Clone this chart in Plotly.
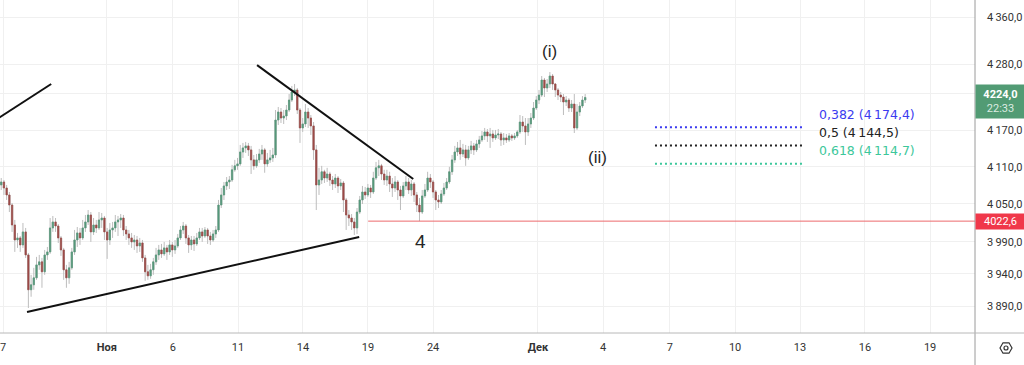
import math
import plotly.graph_objects as go

# ---------------- data (hourly candles) ----------------
opens = [4088.5, 4080.5, 4085.3, 4075.6, 4064.4, 4048.3, 4016.5, 3992.8, 3996, 3985,
 4005.5, 3969.3, 3915, 3922.7, 3933.5, 3953.7, 3958.4, 3942.9, 3969.3, 3974,
 4011.8, 4021.3, 4014.9, 3996, 3977.1, 3946, 3933.5, 3949.1, 3974, 3992.8,
 4003.9, 3996, 4011.8, 4021.3, 4032.4, 4005.5, 4016.5, 4011.8, 4024.5, 4027.6,
 4005.5, 3992.8, 4008.6, 4011.8, 4021.3, 4024.5, 4027.6, 4008.6, 4002.3, 3996,
 3989.7, 3992.8, 3983.4, 3988.1, 3964.6, 3942.9, 3936.6, 3946, 3958.4, 3969.3,
 3977.1, 3970.9, 3980.3, 3974, 3985, 3977.1, 3983.4, 3996, 4008.6, 4014.9,
 3996, 3985, 3992.8, 3986.6, 3996, 4005.5, 3999.1, 4008.6, 3999.1, 3992.8,
 4002.3, 4008.6, 4048.3, 4064.4, 4078.9, 4085.3, 4088.5, 4105, 4111.4, 4114.6,
 4134, 4140.6, 4143.9, 4137.4, 4121.1, 4111.4, 4121.1, 4130.7, 4137.4, 4114.6,
 4121.1, 4124.3, 4129.1, 4186.5, 4199.8, 4189.8, 4193.1, 4203.1, 4219.7, 4233.1,
 4236.5, 4203.1, 4173.4, 4180, 4199.8, 4189.8, 4176.7, 4137.4, 4080.5, 4088.5,
 4101.8, 4091.7, 4098.2, 4088.5, 4082.1, 4091.7, 4078.9, 4083.7, 4056.4, 4032.4,
 4027.6, 4021.3, 4011.8, 4037.1, 4056.4, 4069.2, 4064.4, 4075.6, 4069.2, 4091.7,
 4108.2, 4111.4, 4098.2, 4088.5, 4094.9, 4082.1, 4075.6, 4085.3, 4072.4, 4062.8,
 4078.9, 4085.3, 4072.4, 4082.1, 4064.4, 4048.3, 4037.1, 4062.8, 4072.4, 4091.7,
 4085.3, 4069.2, 4056.4, 4053.2, 4066, 4075.6, 4085.3, 4101.8, 4121.1, 4134,
 4140.6, 4130.7, 4137.4, 4124.3, 4137.4, 4143.9, 4137.4, 4147.2, 4153.7, 4160.3,
 4166.8, 4160.3, 4163.5, 4157, 4161.9, 4163.5, 4153.7, 4157, 4153.7, 4160.3,
 4157, 4160.3, 4166.8, 4183.2, 4176.7, 4166.8, 4180, 4189.8, 4206.4, 4219.7,
 4228, 4253.2, 4239.8, 4246.5, 4259.9, 4246.5, 4236.5, 4228, 4224.7, 4216.4,
 4219.7, 4206.4, 4213, 4173.4, 4199.8, 4209.7, 4219.7]

highs = [4096.6, 4091.7, 4088.5, 4080.5, 4069.2, 4051.5, 4024.5, 4003.9, 3999.1, 4019.7,
 4011.8, 3972.4, 3938.2, 3949.1, 3966.2, 3969.3, 3964.6, 3977.1, 3981.8, 4027.6,
 4030.8, 4027.6, 4018.1, 3999.1, 3980.3, 3953.7, 3958.4, 3980.3, 4008.6, 4013.3,
 4011.8, 4024.5, 4032.4, 4040.3, 4037.1, 4027.6, 4024.5, 4037.1, 4035.6, 4030.8,
 4011.8, 4019.7, 4021.3, 4032.4, 4030.8, 4033.9, 4032.4, 4014.9, 4008.6, 4003.9,
 4000.7, 3999.1, 3996, 3992.8, 3969.3, 3953.7, 3955.3, 3964.6, 3980.3, 3985,
 3986.6, 3989.7, 3985, 3992.8, 3989.7, 3992.8, 4002.3, 4014.9, 4021.3, 4018.1,
 4000.7, 3999.1, 3999.1, 4003.9, 4011.8, 4011.8, 4013.3, 4011.8, 4005.5, 4008.6,
 4014.9, 4056.4, 4075.6, 4085.3, 4093.3, 4094.9, 4113, 4121.1, 4124.3, 4145.5,
 4148.8, 4150.4, 4148.8, 4143.9, 4129.1, 4130.7, 4139, 4145.5, 4140.6, 4132.4,
 4137.4, 4140.6, 4203.1, 4208.1, 4206.4, 4203.1, 4211.4, 4229.7, 4243.2, 4246.5,
 4239.8, 4206.4, 4189.8, 4213, 4206.4, 4194.8, 4183.2, 4145.5, 4108.2, 4111.4,
 4105, 4108.2, 4101.8, 4094.9, 4098.2, 4094.9, 4090.1, 4086.9, 4059.6, 4040.3,
 4033.9, 4027.6, 4043.5, 4062.8, 4078.9, 4077.3, 4082.1, 4080.5, 4101.8, 4117.8,
 4121.1, 4114.6, 4105, 4105, 4101.8, 4091.7, 4094.9, 4088.5, 4078.9, 4085.3,
 4094.9, 4091.7, 4088.5, 4085.3, 4069.2, 4059.6, 4072.4, 4082.1, 4101.8, 4098.2,
 4088.5, 4072.4, 4064.4, 4072.4, 4083.7, 4091.7, 4109.8, 4129.1, 4143.9, 4150.4,
 4153.7, 4147.2, 4145.5, 4143.9, 4152.1, 4148.8, 4153.7, 4160.3, 4168.4, 4173.4,
 4171.7, 4173.4, 4170.1, 4170.1, 4171.7, 4166.8, 4165.1, 4163.5, 4165.1, 4163.5,
 4165.1, 4170.1, 4194.8, 4193.1, 4189.8, 4189.8, 4198.1, 4216.4, 4226.3, 4236.5,
 4259.9, 4256.6, 4254.9, 4266.6, 4263.3, 4248.2, 4239.8, 4233.1, 4229.7, 4226.3,
 4223, 4219.7, 4229.7, 4213, 4216.4, 4226.3, 4229.7]

lows = [4072.4, 4072.4, 4064.4, 4056.4, 4037.1, 4005.5, 3974, 3980.3, 3974, 3980.3,
 3964.6, 3887, 3904.2, 3915, 3930.4, 3946, 3918.1, 3938.2, 3961.5, 3970.9,
 4005.5, 4005.5, 3988.1, 3967.7, 3930.4, 3918.1, 3924.2, 3946, 3969.3, 3981.8,
 3985, 3992.8, 4005.5, 4016.5, 3989.7, 4000.7, 4003.9, 4008.6, 4011.8, 3992.8,
 3963, 3985, 3996, 4005.5, 3999.1, 4011.8, 3999.1, 3992.8, 3985, 3980.3,
 3977.1, 3972.4, 3974, 3958.4, 3928.9, 3930.4, 3932, 3938.2, 3953.7, 3961.5,
 3964.6, 3967.7, 3961.5, 3969.3, 3966.2, 3970.9, 3980.3, 3992.8, 4002.3, 3986.6,
 3972.4, 3977.1, 3975.5, 3983.4, 3992.8, 3989.7, 3996, 3986.6, 3985, 3989.7,
 3996, 4005.5, 4043.5, 4056.4, 4072.4, 4074, 4085.3, 4101.8, 4105, 4111.4,
 4124.3, 4132.4, 4127.5, 4098.2, 4105, 4108.2, 4116.2, 4121.1, 4100.2, 4109.8,
 4116.2, 4117.8, 4124.3, 4178.3, 4181.6, 4179.9, 4186.5, 4199.8, 4216.4, 4226.3,
 4196.5, 4148.8, 4166.8, 4175, 4173.4, 4161.9, 4121.1, 4040.3, 4064.4, 4082.1,
 4083.7, 4085.3, 4078.9, 4072.4, 4075.6, 4067.6, 4072.4, 4037.1, 4008.6, 4014.9,
 4008.6, 4000.7, 4002.3, 4033.9, 4049.9, 4058, 4061.2, 4059.6, 4066, 4088.5,
 4094.9, 4088.5, 4080.5, 4078.9, 4069.2, 4061.2, 4069.2, 4056.4, 4040.3, 4059.6,
 4072.4, 4066, 4062.8, 4053.2, 4037.1, 4022.6, 4033.9, 4059.6, 4069.2, 4075.6,
 4059.6, 4040.3, 4043.5, 4049.9, 4062.8, 4072.4, 4082.1, 4096.6, 4116.2, 4127.5,
 4121.1, 4125.9, 4111.4, 4121.1, 4130.7, 4129.1, 4134, 4140.6, 4150.4, 4153.7,
 4150.4, 4140.6, 4150.4, 4153.7, 4155.3, 4143.9, 4145.5, 4148.8, 4150.4, 4152.1,
 4153.7, 4157, 4163.5, 4166.8, 4145.5, 4160.3, 4173.4, 4186.5, 4203.1, 4213,
 4224.7, 4224.7, 4233.1, 4239.8, 4236.5, 4224.7, 4219.7, 4216.4, 4194.8, 4209.7,
 4199.8, 4199.8, 4165.1, 4170.1, 4193.1, 4206.4, 4214.7]

closes = [4080.5, 4085.3, 4075.6, 4064.4, 4048.3, 4016.5, 3992.8, 3996, 3985, 4005.5,
 3969.3, 3915, 3922.7, 3933.5, 3953.7, 3958.4, 3942.9, 3969.3, 3974, 4011.8,
 4021.3, 4014.9, 3996, 3977.1, 3946, 3933.5, 3949.1, 3974, 3992.8, 4003.9,
 3996, 4011.8, 4021.3, 4032.4, 4005.5, 4016.5, 4011.8, 4024.5, 4027.6, 4005.5,
 3992.8, 4008.6, 4011.8, 4021.3, 4024.5, 4027.6, 4008.6, 4002.3, 3996, 3989.7,
 3992.8, 3983.4, 3988.1, 3964.6, 3942.9, 3936.6, 3946, 3958.4, 3969.3, 3977.1,
 3970.9, 3980.3, 3974, 3985, 3977.1, 3983.4, 3996, 4008.6, 4014.9, 3996,
 3985, 3992.8, 3986.6, 3996, 4005.5, 3999.1, 4008.6, 3999.1, 3992.8, 4002.3,
 4008.6, 4048.3, 4064.4, 4078.9, 4085.3, 4088.5, 4105, 4111.4, 4114.6, 4134,
 4140.6, 4143.9, 4137.4, 4121.1, 4111.4, 4121.1, 4130.7, 4137.4, 4114.6, 4121.1,
 4124.3, 4129.1, 4186.5, 4199.8, 4189.8, 4193.1, 4203.1, 4219.7, 4233.1, 4236.5,
 4203.1, 4173.4, 4180, 4199.8, 4189.8, 4176.7, 4137.4, 4080.5, 4088.5, 4101.8,
 4091.7, 4098.2, 4088.5, 4082.1, 4091.7, 4078.9, 4083.7, 4056.4, 4032.4, 4027.6,
 4021.3, 4011.8, 4037.1, 4056.4, 4069.2, 4064.4, 4075.6, 4069.2, 4091.7, 4108.2,
 4111.4, 4098.2, 4088.5, 4094.9, 4082.1, 4075.6, 4085.3, 4072.4, 4062.8, 4078.9,
 4085.3, 4072.4, 4082.1, 4064.4, 4048.3, 4037.1, 4062.8, 4072.4, 4091.7, 4085.3,
 4069.2, 4056.4, 4053.2, 4066, 4075.6, 4085.3, 4101.8, 4121.1, 4134, 4140.6,
 4130.7, 4137.4, 4124.3, 4137.4, 4143.9, 4137.4, 4147.2, 4153.7, 4160.3, 4166.8,
 4160.3, 4163.5, 4157, 4161.9, 4163.5, 4153.7, 4157, 4153.7, 4160.3, 4157,
 4160.3, 4166.8, 4183.2, 4176.7, 4166.8, 4180, 4189.8, 4206.4, 4219.7, 4228,
 4253.2, 4239.8, 4246.5, 4259.9, 4246.5, 4236.5, 4228, 4224.7, 4216.4, 4219.7,
 4206.4, 4213, 4173.4, 4199.8, 4209.7, 4219.7, 4224.0]

# time axis (bar-index positions of the date labels); first label only shows its last digit
x_tick_pos = [1.7, 39.9, 64.2, 88.2, 112.1, 136.0, 160.0, 198.6, 222.6, 247.2, 271.2, 295.1, 319.0, 343.0]
x_tick_text = ["7", "<b>Ноя</b>", "6", "11", "14", "19", "24", "<b>Дек</b>", "4", "7", "10", "13", "16", "19"]
x_range = [0.55, 359.53]

# price axis (log scale); the 4230 label is hidden behind the last-price tag in the reference
y_tick_vals = [3890, 3940, 3990, 4050, 4110, 4170, 4230, 4280, 4360]
y_tick_text = ["3\u2009890,0", "3\u2009940,0", "3\u2009990,0", "4\u2009050,0", "4\u2009110,0",
               "4\u2009170,0", "", "4\u2009280,0", "4\u2009360,0"]
y_range_log = [3.585319, 3.642438]

# drawn trend lines: (bar, price) end points
trend_x = [[-1.25, 19.4], [10.5, 132.8], [95.2, 152.7]]
trend_y = [[4186.0, 4246.5], [3880.8, 3997.5], [4278.3, 4090.1]]

# horizontal level (wave 4 low)
level_price = 4022.6
level_start = 136.1

# Fibonacci retracement levels
fib_ratio = ["0,382", "0,5", "0,618"]
fib_price = [4174.4, 4144.5, 4114.7]
fib_text_price = ["4\u2009174,4", "4\u2009144,5", "4\u2009114,7"]
fib_color = ["#3b3bf0", "#222222", "#3cc79b"]
fib_x = [241.7, 296.9]
fib_label_x = 301.4

# wave labels
wave_text = ["4", "(i)", "(ii)"]
wave_x = [155.2, 202.7, 220.4]
wave_y = [3990.0, 4302.0, 4124.3]
wave_size = [19, 17, 17]

last_price = 4224.0
last_price_text = "4224,0"
countdown = "22:33"
level_text = "4022,6"

# ---------------- styles ----------------
UP = "#55987a"
DOWN = "#9c4a47"
WICK = "#bdbdbd"
GRID = "#f0f0f0"
TXT = "#333333"
FONT = "Roboto"

bars = list(range(len(closes)))
body_hi = [max(o, c) for o, c in zip(opens, closes)]
body_lo = [min(o, c) for o, c in zip(opens, closes)]


def ly(p):
    # annotations on a log axis are positioned in log10 units
    return math.log10(p)


fig = go.Figure()

# wicks (grey)
fig.add_trace(go.Candlestick(
    x=bars, open=opens, high=highs, low=lows, close=closes,
    increasing=dict(line=dict(color=WICK, width=1), fillcolor=WICK),
    decreasing=dict(line=dict(color=WICK, width=1), fillcolor=WICK),
    whiskerwidth=0, hoverinfo="skip", showlegend=False))
# bodies (coloured)
fig.add_trace(go.Candlestick(
    x=bars, open=opens, high=body_hi, low=body_lo, close=closes,
    increasing=dict(line=dict(color=UP, width=0.6), fillcolor=UP),
    decreasing=dict(line=dict(color=DOWN, width=0.6), fillcolor=DOWN),
    whiskerwidth=0, hoverinfo="skip", showlegend=False))

# trend lines
for tx, ty in zip(trend_x, trend_y):
    fig.add_trace(go.Scatter(x=tx, y=ty, mode="lines",
                             line=dict(color="#111111", width=2),
                             hoverinfo="skip", showlegend=False))

# horizontal red level
fig.add_trace(go.Scatter(x=[level_start, x_range[1]], y=[level_price, level_price], mode="lines",
                         line=dict(color="#ec6a6d", width=1), hoverinfo="skip", showlegend=False))

# fib levels
for r, p, pt, col in zip(fib_ratio, fib_price, fib_text_price, fib_color):
    fig.add_trace(go.Scatter(x=fib_x, y=[p, p], mode="lines",
                             line=dict(color=col, width=2, dash="2px,3px"),
                             hoverinfo="skip", showlegend=False))
    fig.add_annotation(x=fib_label_x, y=ly(p), xref="x", yref="y", text=f"{r} ({pt})",
                       showarrow=False, xanchor="left", yanchor="middle", yshift=13,
                       font=dict(family="DejaVu Sans", size=12.5, color=col))

# wave labels
for t, wx, wy, ws in zip(wave_text, wave_x, wave_y, wave_size):
    fig.add_annotation(x=wx, y=ly(wy), xref="x", yref="y", text=t, showarrow=False,
                       xanchor="center", yanchor="middle",
                       font=dict(family="Liberation Sans", size=ws, color="#262626"))

# price labels on the right scale
fig.add_annotation(x=1, xref="paper", y=ly(4217.2), yref="y", xanchor="left", yanchor="middle",
                   text=f"<b>{last_price_text}</b><br><span style='color:#dcebe2'>{countdown}</span>",
                   showarrow=False, bgcolor="#529b74", width=49, height=33, borderpad=0,
                   align="center", font=dict(family=FONT, size=11, color="white"))
fig.add_annotation(x=1, xref="paper", y=ly(level_price), yref="y", xanchor="left", yanchor="middle",
                   text=level_text, showarrow=False, bgcolor="#f0384a", width=49, height=15,
                   borderpad=0, align="center", font=dict(family=FONT, size=11, color="white"))

# scale separators and settings icon
fig.add_shape(type="line", xref="paper", yref="paper", x0=1, x1=1, y0=1, y1=-0.1,
              line=dict(color="#9a9a9a", width=1))
fig.add_shape(type="line", xref="paper", yref="paper", x0=0, x1=1.06, y0=0, y1=0,
              line=dict(color="#b8b8b8", width=1))
fig.add_shape(type="path", xref="paper", yref="paper",
              path="M 1.02564,-0.04505 L 1.02872,-0.02943 L 1.03487,-0.02943 L 1.03795,-0.04505 "
                   "L 1.03487,-0.06066 L 1.02872,-0.06066 Z",
              line=dict(color="#333333", width=1.2))
fig.add_shape(type="circle", xref="paper", yref="paper", x0=1.02974, x1=1.03384,
              y0=-0.05106, y1=-0.03904, line=dict(color="#333333", width=1.2))

fig.update_layout(
    width=1024, height=365,
    margin=dict(l=0, r=49, t=0, b=32, pad=0, autoexpand=False),
    paper_bgcolor="white", plot_bgcolor="white",
    showlegend=False,
    font=dict(family=FONT, size=11, color=TXT),
    xaxis=dict(range=x_range, tickmode="array", tickvals=x_tick_pos, ticktext=x_tick_text,
               showgrid=True, gridcolor=GRID, gridwidth=1, zeroline=False, automargin=False,
               showline=False, ticks="", ticklabelstandoff=6, ticklabeloverflow="allow",
               rangeslider=dict(visible=False), fixedrange=True,
               tickfont=dict(family=FONT, size=11, color=TXT)),
    yaxis=dict(type="log", range=y_range_log, side="right", tickmode="array",
               tickvals=y_tick_vals, ticktext=y_tick_text, automargin=False,
               showgrid=True, gridcolor=GRID, gridwidth=1, zeroline=False,
               showline=False, ticks="", ticklabelstandoff=11, fixedrange=True,
               tickfont=dict(family=FONT, size=11, color=TXT)),
)

fig.write_html("out.html", config={"displayModeBar": False},
               post_script="document.body.style.margin='0';document.body.style.overflow='hidden';")
